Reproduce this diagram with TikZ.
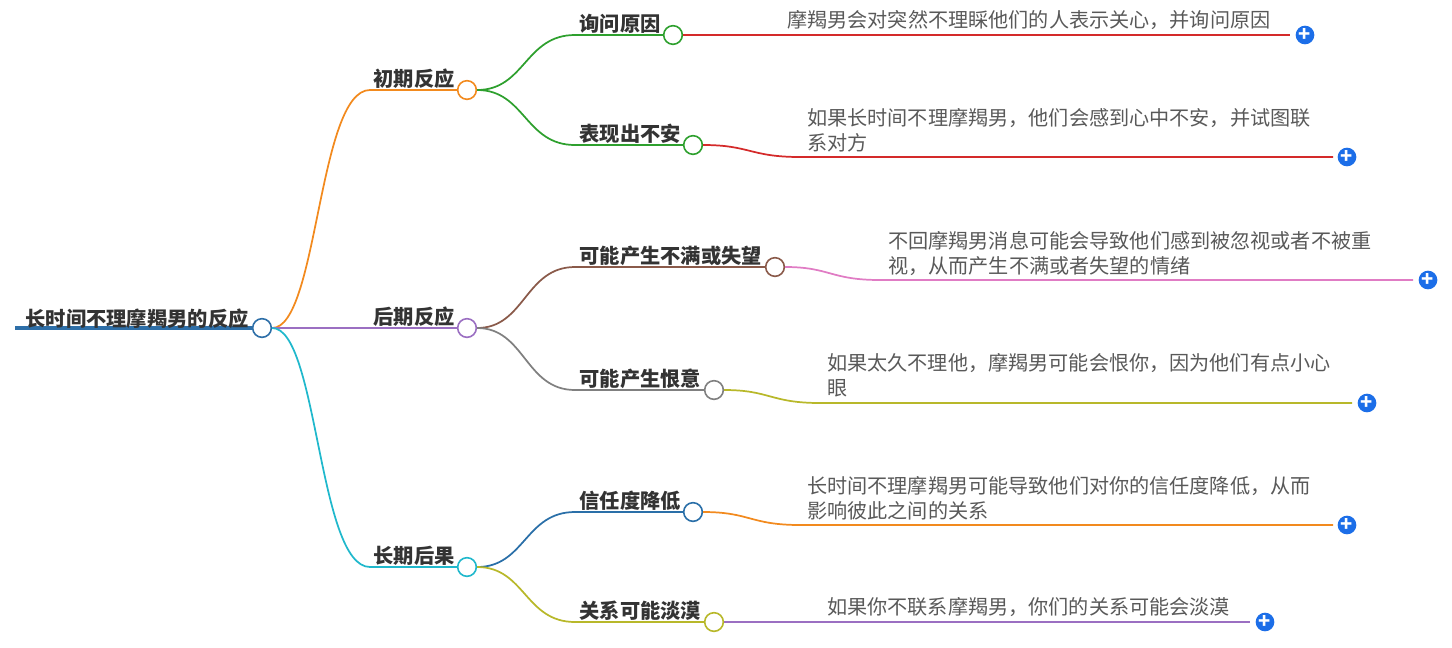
\documentclass[tikz,border=0pt]{standalone}
\usepackage{fontspec}
\setmainfont{Noto Sans CJK SC}
\usetikzlibrary{positioning}
\begin{document}
\begin{tikzpicture}[x=0.75pt,y=-0.75pt,
    knob/.style={circle, draw=#1, fill=white, line width=1.2pt, minimum size=14pt, inner sep=0pt},
    topic/.style={anchor=south west, inner sep=1pt, font=\fontsize{15.2}{17}\selectfont\bfseries, text=black!80},
    leaf/.style={anchor=north west, inner sep=0pt, align=left, font=\fontsize{15.1}{18.8}\selectfont, text=black!65},
    branch/.style={line width=1.3pt, draw=#1},
    plus/.style={circle, fill=plusblue, minimum size=14pt, inner sep=0pt, text=white, font=\bfseries\fontsize{15}{15}\selectfont}]
  \definecolor{rootblue}{HTML}{2E6FA8}
  \definecolor{orange}{HTML}{F28A1E}
  \definecolor{purple}{HTML}{9B6FC2}
  \definecolor{cyan}{HTML}{20B8CC}
  \definecolor{green}{HTML}{2EA02E}
  \definecolor{brown}{HTML}{8A5A4A}
  \definecolor{gray}{HTML}{808080}
  \definecolor{blue}{HTML}{2A6FA8}
  \definecolor{olive}{HTML}{B8B82A}
  \definecolor{red}{HTML}{D42A2A}
  \definecolor{pink}{HTML}{E07CC4}
  \definecolor{plusblue}{HTML}{1C6EE8}

  \useasboundingbox (0,0) rectangle (1452,647);

  % root
  \draw [line width=3pt, rootblue] (15,328) -- (262,328);
  \node [topic, anchor=south west] (roottext) at (24,330) {长时间不理摩羯男的反应};
  \node [knob=rootblue] (root) at (262,328) {};

  % first level
  \node [knob=orange] (early) at (467,90) {};
  \node [knob=purple] (late) at (467,328) {};
  \node [knob=cyan] (long) at (467,567) {};
  \node [topic] at (372,90) {初期反应};
  \node [topic] at (372,328) {后期反应};
  \node [topic] at (372,567) {长期后果};
  \draw [branch=orange] (root.east) .. controls (318,328) and (318,90) .. (370,90) -- (early.west);
  \draw [branch=purple] (root.east) -- (late.west);
  \draw [branch=cyan] (root.east) .. controls (318,328) and (318,567) .. (370,567) -- (long.west);

  % second level
  \node [knob=green] (ask) at (673,35) {};
  \node [knob=green] (uneasy) at (693,145) {};
  \node [knob=brown] (upset) at (775,267) {};
  \node [knob=gray] (grudge) at (714,390) {};
  \node [knob=blue] (trust) at (693,512) {};
  \node [knob=olive] (cold) at (714,622) {};
  \node [topic] at (578,35) {询问原因};
  \node [topic] at (578,145) {表现出不安};
  \node [topic] at (578,267) {可能产生不满或失望};
  \node [topic] at (578,390) {可能产生恨意};
  \node [topic] at (578,512) {信任度降低};
  \node [topic] at (578,622) {关系可能淡漠};
  \draw [branch=green] (early.east) .. controls (525,90) and (525,35) .. (575,35) -- (ask.west);
  \draw [branch=green] (early.east) .. controls (525,90) and (525,145) .. (575,145) -- (uneasy.west);
  \draw [branch=brown] (late.east) .. controls (525,328) and (525,267) .. (575,267) -- (upset.west);
  \draw [branch=gray] (late.east) .. controls (525,328) and (525,390) .. (575,390) -- (grudge.west);
  \draw [branch=blue] (long.east) .. controls (525,567) and (525,512) .. (575,512) -- (trust.west);
  \draw [branch=olive] (long.east) .. controls (525,567) and (525,622) .. (575,622) -- (cold.west);

  % leaves
  \node [plus] (p1) at (1305,35) {+};
  \node [plus] (p2) at (1347,157) {+};
  \node [plus] (p3) at (1428,280) {+};
  \node [plus] (p4) at (1367,403) {+};
  \node [plus] (p5) at (1347,525) {+};
  \node [plus] (p6) at (1265,622) {+};
  \node [leaf] at (787,10) {摩羯男会对突然不理睬他们的人表示关心，并询问原因};
  \node [leaf] at (807,108) {如果长时间不理摩羯男，他们会感到心中不安，并试图联\\系对方};
  \node [leaf] at (888,231) {不回摩羯男消息可能会导致他们感到被忽视或者不被重\\视，从而产生不满或者失望的情绪};
  \node [leaf] at (827,353) {如果太久不理他，摩羯男可能会恨你，因为他们有点小心\\眼};
  \node [leaf] at (807,476) {长时间不理摩羯男可能导致他们对你的信任度降低，从而\\影响彼此之间的关系};
  \node [leaf] at (827,597) {如果你不联系摩羯男，你们的关系可能会淡漠};
  \draw [branch=red] (ask.east) -- (1290,35);
  \draw [branch=red] (uneasy.east) .. controls (750,145) and (750,157) .. (800,157) -- (1333,157);
  \draw [branch=pink] (upset.east) .. controls (830,267) and (830,280) .. (880,280) -- (1413,280);
  \draw [branch=olive] (grudge.east) .. controls (770,390) and (770,403) .. (820,403) -- (1352,403);
  \draw [branch=orange] (trust.east) .. controls (750,512) and (750,525) .. (800,525) -- (1333,525);
  \draw [branch=purple] (cold.east) -- (1250,622);
\end{tikzpicture}
\end{document}
